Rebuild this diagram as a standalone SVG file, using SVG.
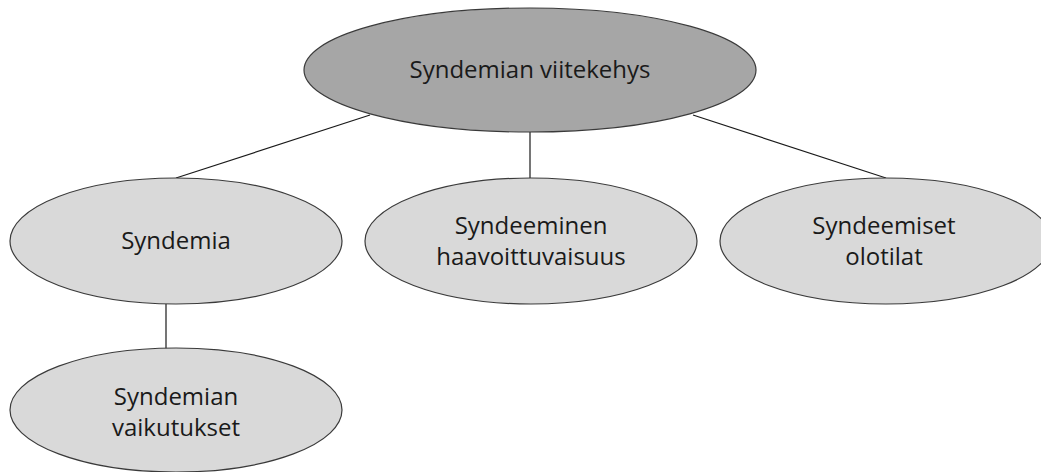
<svg xmlns="http://www.w3.org/2000/svg" width="1041" height="472" viewBox="0 0 1041 472">
<style>
.n{stroke:#3a3a3a;stroke-width:1.2}
.top{fill:#a6a6a6}
.sub{fill:#d9d9d9}
.t{font-family:"Open Sans","Liberation Sans",sans-serif;font-size:24px;fill:#1a1a1a;text-anchor:middle}
.c line{stroke:#1a1a1a;stroke-width:1.2}
</style>
<rect width="1041" height="472" fill="#ffffff"/>
<g class="c" id="connectors">
<line x1="370" y1="115" x2="176" y2="178"/>
<line x1="530" y1="132" x2="530" y2="178"/>
<line x1="693" y1="115" x2="886" y2="178"/>
<line x1="166" y1="304" x2="166" y2="349"/>
</g>
<g id="n-root">
<ellipse class="n top" cx="530" cy="70" rx="226" ry="62"/>
<text class="t" x="530" y="78">Syndemian viitekehys</text>
</g>
<g id="n-syndemia">
<ellipse class="n sub" cx="176" cy="241" rx="166" ry="63"/>
<text class="t" x="176" y="249">Syndemia</text>
</g>
<g id="n-haavoittuvaisuus">
<ellipse class="n sub" cx="531" cy="241" rx="166" ry="63"/>
<text class="t" x="531" y="234">Syndeeminen</text>
<text class="t" x="531" y="265">haavoittuvaisuus</text>
</g>
<g id="n-olotilat">
<ellipse class="n sub" cx="886" cy="241" rx="166" ry="63"/>
<text class="t" x="884" y="234">Syndeemiset</text>
<text class="t" x="884" y="265">olotilat</text>
</g>
<g id="n-vaikutukset">
<ellipse class="n sub" cx="176" cy="410" rx="166" ry="62"/>
<text class="t" x="176" y="405">Syndemian</text>
<text class="t" x="176" y="436">vaikutukset</text>
</g>
</svg>
